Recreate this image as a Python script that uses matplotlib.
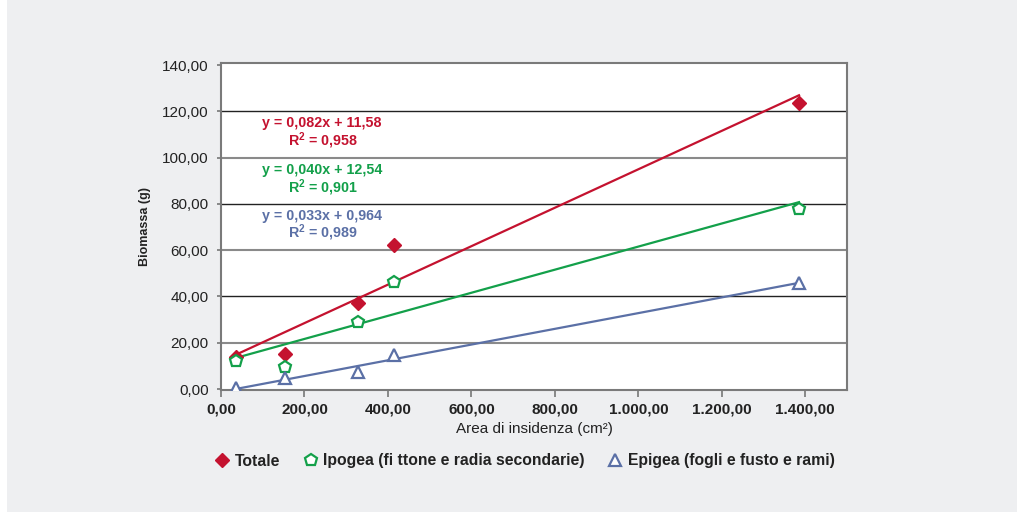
import numpy as np
import matplotlib
matplotlib.use("Agg")
import matplotlib.pyplot as plt
from matplotlib.patches import Rectangle

plt.rcParams['font.family'] = ['Liberation Sans', 'DejaVu Sans']
plt.rcParams['mathtext.fontset'] = 'custom'
plt.rcParams['mathtext.rm'] = 'Liberation Sans:bold'
plt.rcParams['mathtext.bf'] = 'Liberation Sans:bold'

# Data
area_x = [36, 154, 329, 415, 1385]
totale = [13.8, 15.3, 37.0, 62.2, 123.8]
ipogea = [12.1, 9.4, 28.8, 46.2, 77.6]
epigea = [0.6, 4.6, 7.2, 14.6, 46.0]

series_names = ["Totale", "Ipogea (fi ttone e radia secondarie)", "Epigea (fogli e fusto e rami)"]
equations = ["y = 0,082x + 11,58", "y = 0,040x + 12,54", "y = 0,033x + 0,964"]
r2_labels = ["R$^{2}$ = 0,958", "R$^{2}$ = 0,901", "R$^{2}$ = 0,989"]

x_ticks = [0, 200, 400, 600, 800, 1000, 1200, 1400]
x_ticklabels = ["0,00", "200,00", "400,00", "600,00", "800,00", "1.000,00", "1.200,00", "1.400,00"]
y_ticks = [0, 20, 40, 60, 80, 100, 120, 140]
y_ticklabels = ["0,00", "20,00", "40,00", "60,00", "80,00", "100,00", "120,00", "140,00"]

RED = "#c4122f"
GREEN = "#13a04a"
BLUE = "#5b70a6"

fig = plt.figure(figsize=(10.24, 5.12), dpi=100)
fig.patch.set_facecolor("white")
fig.add_artist(Rectangle((7/1024, 0), 1010/1024, 1, transform=fig.transFigure,
                         facecolor="#eeeff1", edgecolor="none", zorder=-10))

ax = fig.add_axes([221/1024, 1-390/512, 626/1024, 327.5/512])
ax.set_facecolor("white")
ax.set_xlim(0, 1500)
ax.set_ylim(-0.4, 141.1)

# gridlines alternating colours
for v in [20, 60, 100]:
    ax.axhline(v, color="#8a8a8a", lw=1.5, zorder=1)
for v in [40, 80, 120]:
    ax.axhline(v, color="#222222", lw=1.0, zorder=1)

xs = np.array(area_x)
for yv, col in [(totale, RED), (ipogea, GREEN), (epigea, BLUE)]:
    k, b = np.polyfit(xs, np.array(yv), 1)
    xx = np.array([xs.min() - 6, xs.max()])
    ax.plot(xx, k * xx + b, color=col, lw=1.6, zorder=3)

ax.plot(area_x, totale, linestyle="none", marker="D", markersize=7, color=RED,
        markeredgecolor=RED, zorder=4, label=series_names[0])
ax.plot(area_x, ipogea, linestyle="none", marker="p", markersize=9, markerfacecolor="white",
        markeredgecolor=GREEN, markeredgewidth=1.6, zorder=4, label=series_names[1])
ax.plot(area_x, epigea, linestyle="none", marker="^", markersize=9, markerfacecolor="white",
        markeredgecolor=BLUE, markeredgewidth=1.6, zorder=4, label=series_names[2])

# equations
eq_y = [(114.9, 107.1), (94.6, 86.8), (74.9, 67.4)]
for (y1, y2), eq, r2, col in zip(eq_y, equations, r2_labels, [RED, GREEN, BLUE]):
    ax.text(242, y1, eq, color=col, fontsize=10.3, fontweight="bold", ha="center", va="center")
    ax.text(244, y2, r2, color=col, fontsize=10.3, fontweight="bold", ha="center", va="center")

ax.set_xticks(x_ticks)
ax.set_xticklabels(x_ticklabels, fontsize=11, fontweight="bold", color="#222222")
ax.set_yticks(y_ticks)
ax.set_yticklabels(y_ticklabels, fontsize=11, color="#222222")
ax.tick_params(axis="x", direction="out", length=5, width=1.2, color="#777777", pad=4)
ax.tick_params(axis="y", direction="out", length=3, width=1.2, color="#777777", pad=6)
for s in ax.spines.values():
    s.set_color("#7a7a7a")
    s.set_linewidth(1.5)

ax.set_ylabel("Biomassa (g)", fontsize=9, fontweight="bold", color="#222222", labelpad=8)
ax.set_xlabel("Area di insidenza (cm²)", fontsize=11, color="#222222", labelpad=4)

leg = fig.legend(loc="center", bbox_to_anchor=(524/1024, 1-461/512), ncol=3, frameon=False,
                 prop={"weight": "bold", "size": 11.3}, handletextpad=0.25, columnspacing=1.4,
                 handlelength=1.1)
for t in leg.get_texts():
    t.set_color("#222222")

fig.savefig("out.png", dpi=100, facecolor=fig.get_facecolor())
